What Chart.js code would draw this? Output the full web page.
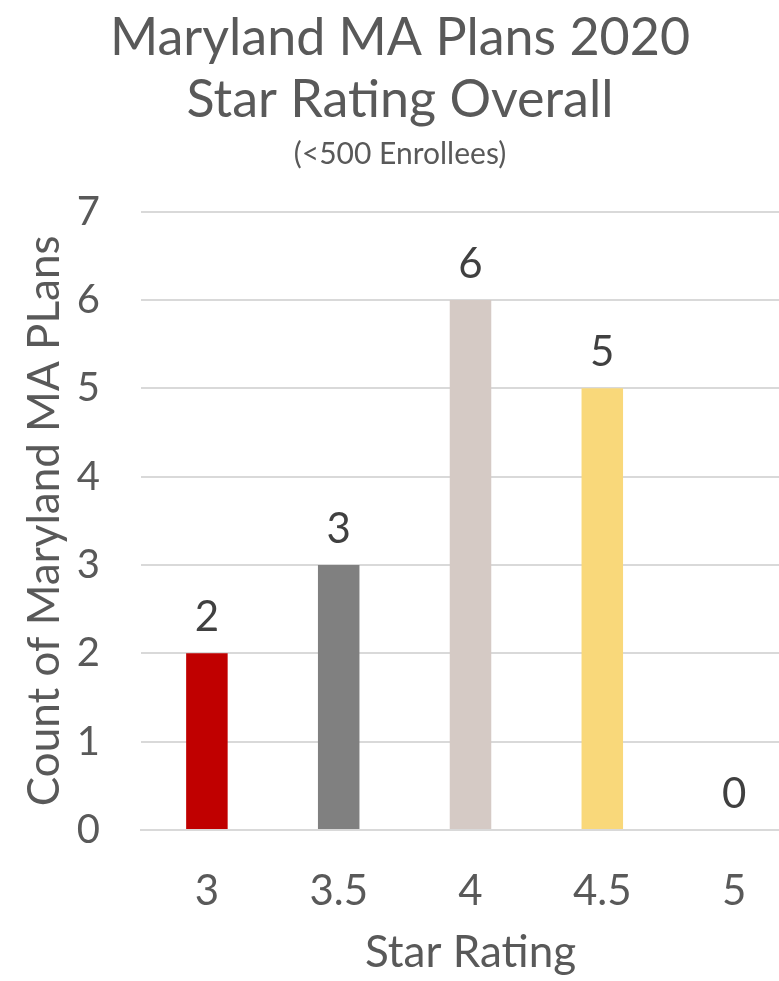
<!DOCTYPE html>
<html>
<head>
<meta charset="utf-8">
<script src="https://cdn.jsdelivr.net/npm/chart.js@4.4.0/dist/chart.umd.min.js"></script>
<style>
  html, body { margin: 0; padding: 0; background: #fff; overflow: hidden; }
  #wrap { position: relative; width: 800px; height: 981px; }
</style>
</head>
<body>
<div id="wrap"><canvas id="chart"></canvas></div>
<script>
const starRatings = ["3", "3.5", "4", "4.5", "5"];
const planCounts = [2, 3, 6, 5, 0];
const barColors = ["#C00000", "#808080", "#D5CAC5", "#F9D87A", "#4472C4"];
const titleLines = ["Maryland MA Plans 2020", "Star Rating Overall"];
const subtitleText = "(<500 Enrollees)";

const fontFamily = "Lato, 'Open Sans', sans-serif";
const textGray = "#595959";

// draws the count above each bar, like the data labels in the original
const valueLabels = {
  id: "valueLabels",
  afterDatasetsDraw(chart) {
    const ctx = chart.ctx;
    const meta = chart.getDatasetMeta(0);
    ctx.save();
    ctx.font = "42px " + fontFamily;
    ctx.fillStyle = "#404040";
    ctx.textAlign = "center";
    ctx.textBaseline = "alphabetic";
    meta.data.forEach((bar, i) => {
      ctx.fillText(String(planCounts[i]), bar.x, bar.y - 22);
    });
    ctx.restore();
  },
};

const ctx = document.getElementById("chart").getContext("2d");

new Chart(ctx, {
  type: "bar",
  data: {
    labels: starRatings,
    datasets: [
      {
        data: planCounts,
        backgroundColor: barColors,
        categoryPercentage: 1,
        barPercentage: 0.315,
      },
    ],
  },
  options: {
    responsive: true,
    maintainAspectRatio: false,
    animation: false,
    layout: { padding: { top: 4, left: 0, right: 0, bottom: 2 } },
    plugins: {
      legend: { display: false },
      tooltip: { enabled: false },
      title: {
        display: true,
        text: titleLines,
        color: textGray,
        font: { family: fontFamily, size: 52, weight: "normal", lineHeight: 1.18 },
        padding: { top: 4, bottom: 6 },
      },
      subtitle: {
        display: true,
        text: subtitleText,
        color: textGray,
        font: { family: fontFamily, size: 30, weight: "normal" },
        padding: { top: 0, bottom: 39 },
      },
    },
    scales: {
      x: {
        afterFit: (scale) => {
          scale.height = 149;
        },
        grid: { display: false, drawTicks: false },
        border: { color: "#D9D9D9", width: 2 },
        ticks: {
          color: textGray,
          font: { family: fontFamily, size: 42 },
          padding: 36,
        },
        title: {
          display: true,
          text: "Star Rating",
          color: textGray,
          font: { family: fontFamily, size: 44 },
          padding: { top: 2, bottom: 0 },
        },
      },
      y: {
        min: 0,
        max: 7,
        afterFit: (scale) => {
          scale.width = 141;
        },
        grid: { color: "#D9D9D9", lineWidth: 2, drawTicks: false },
        border: { display: false },
        ticks: {
          stepSize: 1,
          color: textGray,
          font: { family: fontFamily, size: 40 },
          padding: 41,
        },
        title: {
          display: true,
          text: "Count of Maryland MA PLans",
          color: textGray,
          font: { family: fontFamily, size: 44 },
          padding: { top: 18, bottom: 0 },
        },
      },
    },
  },
  plugins: [valueLabels],
});
</script>
</body>
</html>
